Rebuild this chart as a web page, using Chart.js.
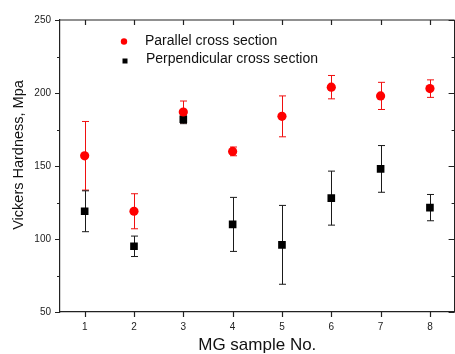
<!DOCTYPE html>
<html>
<head>
<meta charset="utf-8">
<script src="https://cdn.jsdelivr.net/npm/chart.js@4.4.1/dist/chart.umd.min.js"></script>
<style>
  html, body { margin: 0; padding: 0; background: #fff; overflow: hidden; }
  #wrap { width: 460px; height: 354px; }
</style>
</head>
<body>
<div id="wrap"><canvas id="grafico"></canvas></div>
<script>
// datos
const muestras = ['1', '2', '3', '4', '5', '6', '7', '8'];
const paralelo = [157, 119, 187, 160, 184, 204, 198, 203];
const paraleloErr = [23.5, 12, 7.5, 3, 14, 8, 9.3, 6];
const perpendicular = [119, 95, 182, 110, 96, 128, 148, 121.5];
const perpendicularErr = [14, 7, 3, 18.5, 27, 18.5, 16, 9];
const yMayores = [50, 100, 150, 200, 250];
const yMenores = [75, 125, 175, 225];

const ejeColor = '#222';
const fuente = "'Liberation Sans', Arial, sans-serif";
Chart.defaults.font.family = fuente;

// barras de error, debajo de los puntos
const barrasError = {
  id: 'barrasError',
  beforeDatasetsDraw(chart) {
    const ctx = chart.ctx;
    const y = chart.scales.y;
    chart.data.datasets.forEach((ds, d) => {
      const meta = chart.getDatasetMeta(d);
      ctx.save();
      ctx.strokeStyle = ds.errColor;
      ctx.lineWidth = 1;
      meta.data.forEach((pt, i) => {
        const arriba = y.getPixelForValue(ds.data[i] + ds.err[i]);
        const abajo = y.getPixelForValue(ds.data[i] - ds.err[i]);
        const x = Math.round(pt.x) + 0.5;
        ctx.beginPath();
        ctx.moveTo(x, arriba); ctx.lineTo(x, abajo);
        ctx.moveTo(x - 3.5, arriba); ctx.lineTo(x + 3.5, arriba);
        ctx.moveTo(x - 3.5, abajo); ctx.lineTo(x + 3.5, abajo);
        ctx.stroke();
      });
      ctx.restore();
    });
  }
};

// marco, marcas de los ejes, titulo Y y leyenda
const marco = {
  id: 'marco',
  afterDraw(chart) {
    const ctx = chart.ctx;
    const a = chart.chartArea;
    const x = chart.scales.x;
    const y = chart.scales.y;
    ctx.save();
    ctx.strokeStyle = ejeColor;
    ctx.lineWidth = 1.2;
    ctx.beginPath();
    ctx.moveTo(a.left, a.top); ctx.lineTo(a.right, a.top);
    ctx.moveTo(a.right, a.top); ctx.lineTo(a.right, a.bottom);
    // marcas en x (abajo hacia fuera, arriba hacia dentro)
    x.ticks.forEach((t, i) => {
      const px = Math.round(x.getPixelForTick(i)) + 0.5;
      ctx.moveTo(px, a.bottom); ctx.lineTo(px, a.bottom + 5);
      ctx.moveTo(px, a.top); ctx.lineTo(px, a.top + 5);
    });
    // marcas en y
    yMayores.forEach(v => {
      const py = Math.round(y.getPixelForValue(v)) + 0.5;
      ctx.moveTo(a.left - 5, py); ctx.lineTo(a.left, py);
      ctx.moveTo(a.right - 6, py); ctx.lineTo(a.right, py);
    });
    yMenores.forEach(v => {
      const py = Math.round(y.getPixelForValue(v)) + 0.5;
      ctx.moveTo(a.left - 3, py); ctx.lineTo(a.left, py);
      ctx.moveTo(a.right - 3, py); ctx.lineTo(a.right, py);
    });
    ctx.stroke();

    // titulo del eje y
    ctx.fillStyle = '#111';
    ctx.font = '14.5px ' + fuente;
    ctx.textAlign = 'center';
    ctx.textBaseline = 'middle';
    ctx.translate(19, 155);
    ctx.rotate(-Math.PI / 2);
    ctx.fillText('Vickers Hardness, Mpa', 0, 0);
    ctx.restore();

    // leyenda
    const ds = chart.data.datasets;
    ctx.save();
    ctx.font = '14px ' + fuente;
    ctx.textBaseline = 'middle';
    ctx.fillStyle = ds[0].backgroundColor;
    ctx.beginPath();
    ctx.arc(124, 41.5, 3.2, 0, Math.PI * 2);
    ctx.fill();
    ctx.fillStyle = ds[1].backgroundColor;
    ctx.fillRect(122.5, 58.5, 5, 5);
    ctx.fillStyle = '#111';
    ctx.fillText(ds[0].label, 145, 41);
    ctx.fillText(ds[1].label, 146, 59.5);
    ctx.restore();
  }
};

const config = {
  type: 'line',
  data: {
    labels: muestras,
    datasets: [{
      label: 'Parallel cross section',
      data: paralelo,
      err: paraleloErr,
      errColor: '#f01010',
      showLine: false,
      backgroundColor: '#ff0000',
      borderColor: '#ff0000',
      pointStyle: 'circle',
      pointRadius: 4.6,
      pointBorderWidth: 0
    }, {
      label: 'Perpendicular cross section',
      data: perpendicular,
      err: perpendicularErr,
      errColor: '#1a1a1a',
      showLine: false,
      backgroundColor: '#000000',
      borderColor: '#000000',
      pointStyle: 'rect',
      pointRadius: 5.4,
      pointBorderWidth: 0
    }]
  },
  options: {
    responsive: true,
    maintainAspectRatio: false,
    animation: false,
    events: [],
    layout: { padding: { top: 20, right: 3, left: 0, bottom: 0 } },
    plugins: {
      legend: { display: false },
      tooltip: { enabled: false }
    },
    scales: {
      x: {
        type: 'category',
        offset: true,
        grid: { display: false, drawTicks: false },
        border: { display: true, color: ejeColor, width: 1.2 },
        ticks: { color: '#222', font: { size: 10 }, padding: 9, maxRotation: 0 },
        title: {
          display: true,
          text: 'MG sample No.',
          color: '#111',
          font: { size: 17 },
          padding: { top: 0, bottom: -2 }
        },
        afterFit: s => { s.height = 42; }
      },
      y: {
        min: 50,
        max: 250,
        grid: { display: false, drawTicks: false },
        border: { display: true, color: ejeColor, width: 1.2 },
        ticks: { stepSize: 50, color: '#222', font: { size: 10 }, padding: 9 },
        afterFit: s => { s.width = 60; }
      }
    }
  },
  plugins: [barrasError, marco]
};

const grafico = new Chart(document.getElementById('grafico').getContext('2d'), config);
</script>
</body>
</html>
